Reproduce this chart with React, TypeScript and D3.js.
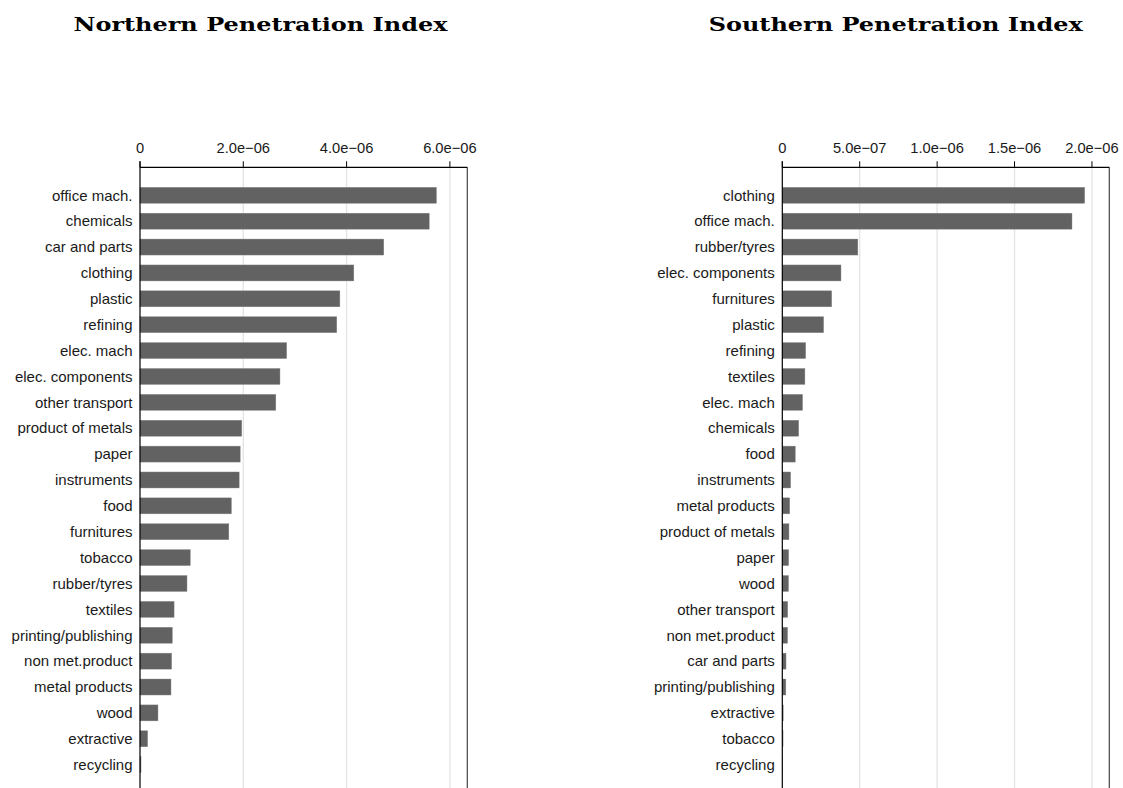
import React from "react";
import * as d3 from "d3";

const northCategories = [
  "office mach.", "chemicals", "car and parts", "clothing", "plastic", "refining",
  "elec. mach", "elec. components", "other transport", "product of metals", "paper",
  "instruments", "food", "furnitures", "tobacco", "rubber/tyres", "textiles",
  "printing/publishing", "non met.product", "metal products", "wood", "extractive", "recycling",
];
const northValues = [
  5.74e-6, 5.6e-6, 4.72e-6, 4.14e-6, 3.87e-6, 3.81e-6, 2.84e-6, 2.71e-6, 2.63e-6,
  1.97e-6, 1.94e-6, 1.92e-6, 1.77e-6, 1.72e-6, 0.974e-6, 0.91e-6, 0.66e-6, 0.626e-6,
  0.613e-6, 0.6e-6, 0.348e-6, 0.148e-6, 0.02e-6,
];
const northTicks = [0, 2e-6, 4e-6, 6e-6];
const northTickLabels = ["0", "2.0e\u221206", "4.0e\u221206", "6.0e\u221206"];

const southCategories = [
  "clothing", "office mach.", "rubber/tyres", "elec. components", "furnitures", "plastic",
  "refining", "textiles", "elec. mach", "chemicals", "food", "instruments", "metal products",
  "product of metals", "paper", "wood", "other transport", "non met.product", "car and parts",
  "printing/publishing", "extractive", "tobacco", "recycling",
];
const southValues = [
  1.953e-6, 1.871e-6, 0.488e-6, 0.379e-6, 0.319e-6, 0.267e-6, 0.151e-6, 0.146e-6, 0.131e-6,
  0.106e-6, 0.084e-6, 0.054e-6, 0.048e-6, 0.043e-6, 0.041e-6, 0.04e-6, 0.035e-6, 0.034e-6,
  0.024e-6, 0.023e-6, 0.006e-6, 0.005e-6, 0.001e-6,
];
const southTicks = [0, 5e-7, 1e-6, 1.5e-6, 2e-6];
const southTickLabels = ["0", "5.0e\u221207", "1.0e\u221206", "1.5e\u221206", "2.0e\u221206"];

const AXIS_Y = 167.3;
const BAND_TOP = 182.36;
const STEP = 25.88;

type PanelProps = {
  title: string;
  titleX: number;
  categories: string[];
  values: number[];
  ticks: number[];
  tickLabels: string[];
  x0: number;
  x1: number;
  xMax: number;
};

function Panel({ title, titleX, categories, values, ticks, tickLabels, x0, x1, xMax }: PanelProps) {
  const x = d3.scaleLinear().domain([0, xMax]).range([x0, x1]);
  const y = d3
    .scaleBand<string>()
    .domain(categories)
    .range([BAND_TOP, BAND_TOP + STEP * categories.length])
    .paddingInner(0.382)
    .paddingOuter(0.191);
  const bottom = 800;
  return (
    <g>
      <text
        x={titleX}
        y={31}
        textAnchor="middle"
        fontFamily="'DejaVu Serif', serif"
        fontWeight="bold"
        fontSize={19}
        textLength={374}
        lengthAdjust="spacingAndGlyphs"
        fill="#000"
      >
        {title}
      </text>
      {ticks.slice(1).map((t) => (
        <line key={"g" + t} x1={x(t)} x2={x(t)} y1={AXIS_Y} y2={bottom} stroke="#e4e4e4" strokeWidth={1.3} />
      ))}
      {categories.map((c, i) => (
        <rect
          key={c}
          x={x(0)}
          y={y(c)}
          width={Math.max(0, x(values[i]) - x(0))}
          height={y.bandwidth()}
          fill="#626262"
          stroke="#8a8a8a"
          strokeWidth={0.4}
        />
      ))}
      {categories.map((c) => (
        <text
          key={"l" + c}
          x={x0 - 7.5}
          y={(y(c) as number) + y.bandwidth() / 2}
          dy="0.35em"
          textAnchor="end"
          fontFamily="'Liberation Sans', Arial, sans-serif"
          fontSize={15}
          fill="#1a1a1a"
        >
          {c}
        </text>
      ))}
      <line x1={x1} x2={x1} y1={AXIS_Y} y2={bottom} stroke="#444" strokeWidth={1.2} />
      <line x1={x0} x2={x1} y1={AXIS_Y} y2={AXIS_Y} stroke="#000" strokeWidth={1.2} />
      <line x1={x0} x2={x0} y1={AXIS_Y - 6} y2={bottom} stroke="#000" strokeWidth={1.2} />
      {ticks.map((t, i) => (
        <g key={"t" + t}>
          <line x1={x(t)} x2={x(t)} y1={AXIS_Y - 6} y2={AXIS_Y} stroke="#000" strokeWidth={1} />
          <text
            x={x(t)}
            y={153.3}
            textAnchor="middle"
            fontFamily="'Liberation Sans', Arial, sans-serif"
            fontSize={14.7}
            fill="#1a1a1a"
          >
            {tickLabels[i]}
          </text>
        </g>
      ))}
    </g>
  );
}

export default function App() {
  return (
    <svg
      width={1123}
      height={788}
      style={{ position: "absolute", left: 0, top: 0, background: "#fff" }}
    >
      <rect x={0} y={0} width={1123} height={788} fill="#fff" />
      <Panel
        title="Northern Penetration Index"
        titleX={260.5}
        categories={northCategories}
        values={northValues}
        ticks={northTicks}
        tickLabels={northTickLabels}
        x0={140}
        x1={467.3}
        xMax={6.337e-6}
      />
      <Panel
        title="Southern Penetration Index"
        titleX={895.7}
        categories={southCategories}
        values={southValues}
        ticks={southTicks}
        tickLabels={southTickLabels}
        x0={782.3}
        x1={1109.3}
        xMax={2.112e-6}
      />
    </svg>
  );
}
